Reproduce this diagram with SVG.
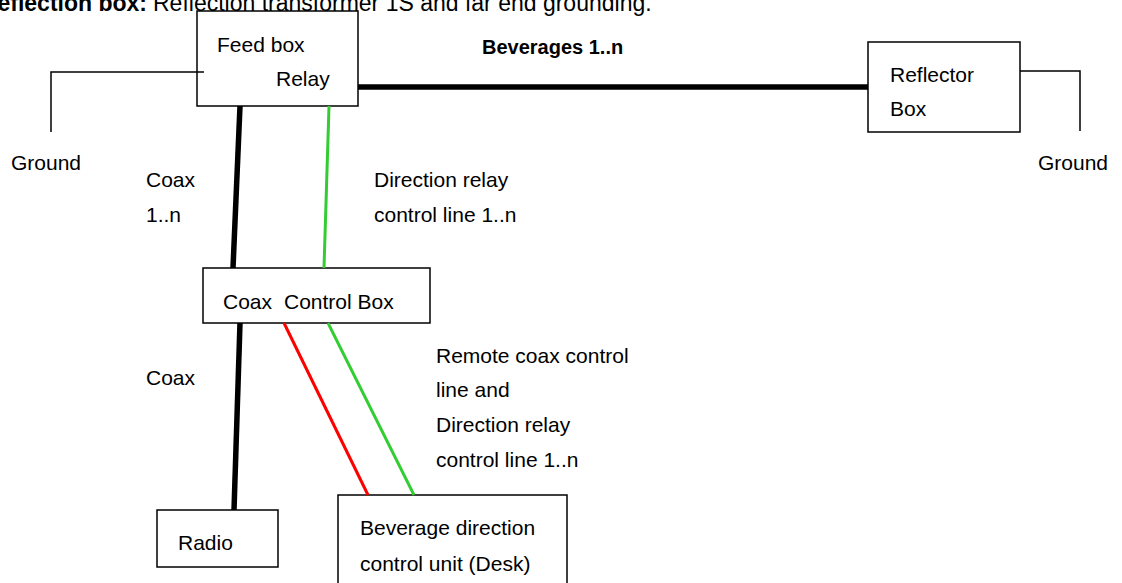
<svg xmlns="http://www.w3.org/2000/svg" width="1122" height="583" viewBox="0 0 1122 583">
<style>
text{font-family:"Liberation Sans",Arial,sans-serif;font-size:21px;fill:#000}
.b{font-weight:bold}
.box{fill:#fff;stroke:#000;stroke-width:1.5}
.thin{fill:none;stroke:#000;stroke-width:1.5}
.thick{stroke:#000;stroke-width:5.5;fill:none}
.green{stroke:#33cc33;stroke-width:3;fill:none}
.red{stroke:#ff0000;stroke-width:3;fill:none}
</style>
<rect width="1122" height="583" fill="#fff"/>
<g id="heading">
<text x="147" y="11" class="b" text-anchor="end" style="font-size:23px">Reflection box:</text>
<text x="153" y="11" style="font-size:23px">Reflection transformer 1S and far end grounding.</text>
</g>
<g id="title"><text x="482" y="54" class="b" style="font-size:20px">Beverages 1..n</text></g>
<g id="feed-box">
<rect class="box" x="197" y="11" width="161" height="95"/>
<text x="217" y="52">Feed box</text>
<text x="276" y="86">Relay</text>
</g>
<g id="reflector-box">
<rect class="box" x="868" y="42" width="152" height="90"/>
<text x="890" y="82">Reflector</text>
<text x="890" y="116">Box</text>
</g>
<g id="coax-control-box">
<rect class="box" x="203" y="268" width="227" height="55"/>
<text x="223" y="309">Coax</text>
<text x="284" y="309">Control Box</text>
</g>
<g id="radio">
<rect class="box" x="157" y="510" width="121" height="57"/>
<text x="178" y="550">Radio</text>
</g>
<g id="direction-unit">
<rect class="box" x="338" y="495" width="229" height="100"/>
<text x="360" y="535">Beverage direction</text>
<text x="360" y="571">control unit (Desk)</text>
</g>
<g id="ground-left"><text x="11" y="170">Ground</text></g>
<g id="ground-right"><text x="1038" y="170">Ground</text></g>
<g id="connectors">
<polyline class="thin" points="204,72 51,72 51,132"/>
<polyline class="thin" points="1020,71 1080,71 1080,131"/>
<line class="thick" x1="358" y1="87" x2="868" y2="87"/>
<line class="thick" x1="240" y1="106" x2="233" y2="268"/>
<line class="thick" x1="240" y1="323" x2="234" y2="510"/>
<line class="green" x1="329" y1="106" x2="324" y2="268"/>
<line class="red" x1="284" y1="323" x2="368" y2="495"/>
<line class="green" x1="328" y1="323" x2="414" y2="495"/>
</g>
<g id="labels">
<text x="146" y="187">Coax</text>
<text x="146" y="222">1..n</text>
<text x="374" y="187">Direction relay</text>
<text x="374" y="222">control line 1..n</text>
<text x="146" y="385">Coax</text>
<text x="436" y="363">Remote coax control</text>
<text x="436" y="397">line and</text>
<text x="436" y="432">Direction relay</text>
<text x="436" y="467">control line 1..n</text>
</g>
</svg>
